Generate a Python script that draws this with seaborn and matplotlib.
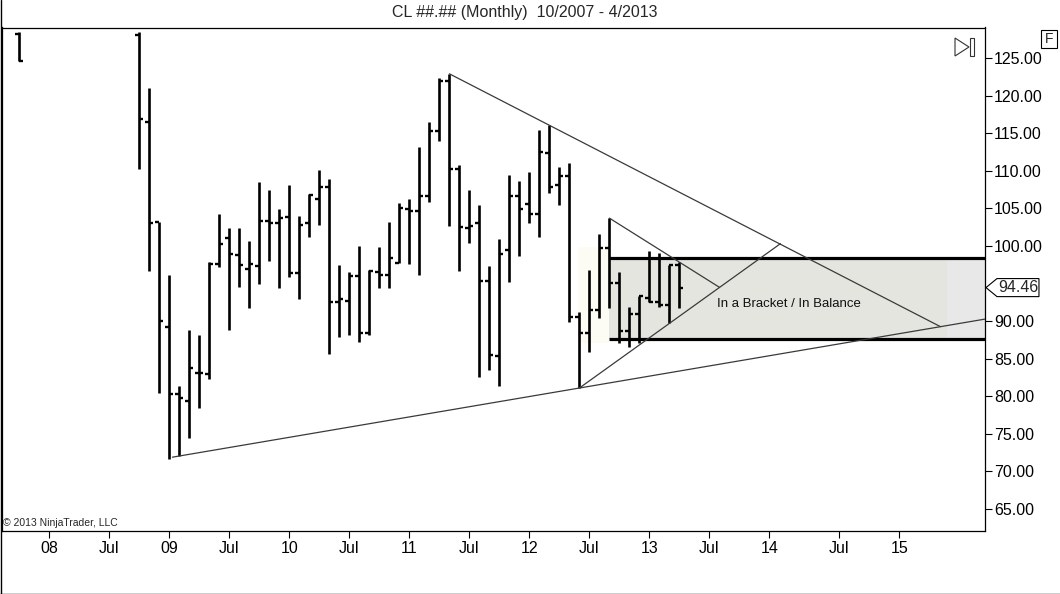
import matplotlib
matplotlib.use("Agg")
import matplotlib.pyplot as plt
import matplotlib.transforms as mtransforms
from matplotlib.patches import Rectangle, Polygon
from matplotlib.lines import Line2D
import seaborn as sns

# Monatsindex: 0 = Jan 2008
months = [-3, 9, 10, 11, 12, 13, 14, 15, 16, 17, 18, 19, 20, 21, 22, 23, 24, 25, 26, 27, 28,
          29, 30, 31, 32, 33, 34, 35, 36, 37, 38, 39, 40, 41, 42, 43, 44, 45, 46, 47, 48,
          49, 50, 51, 52, 53, 54, 55, 56, 57, 58, 59, 60, 61, 62, 63]
opens = [128.2, 128.0, 116.5, 103.2, 89.2, 80.3, 79.4, 83.1, 82.9, 97.6, 101.0, 98.8, 97.0, 97.3, 103.3,
         103.1, 103.8, 96.4, 103.1, 106.3, 107.8, 92.5, 92.7, 96.0, 88.4, 96.5, 96.2, 97.7, 104.9,
         104.7, 106.6, 115.3, 122.0, 110.2, 102.4, 103.0, 95.4, 85.4, 99.4, 106.6, 105.6, 104.2,
         112.3, 108.1, 109.3, 90.6, 88.4, 91.5, 99.7, 95.1, 88.7, 90.9, 93.1, 92.6, 92.2, 97.5]
highs = [128.4, 128.4, 121.0, 103.2, 96.1, 81.4, 88.8, 88.2, 97.8, 104.3, 102.4, 102.4, 100.7, 108.5, 107.5,
         104.9, 108.1, 104.0, 106.9, 110.1, 108.9, 97.4, 96.6, 100.0, 96.8, 99.9, 103.2, 105.7, 106.2,
         113.1, 116.5, 122.3, 122.9, 110.8, 107.4, 105.4, 97.3, 100.9, 109.5, 108.7, 109.8, 115.4,
         116.1, 110.5, 111.0, 91.2, 96.8, 101.6, 103.7, 96.6, 91.9, 93.4, 99.3, 99.1, 97.5, 97.9]
lows = [124.6, 110.3, 96.7, 80.5, 71.7, 72.0, 74.4, 78.5, 82.3, 97.2, 88.8, 94.6, 91.8, 94.9, 98.0,
        94.4, 95.9, 93.0, 101.2, 102.8, 85.6, 87.9, 88.2, 87.2, 88.2, 94.4, 94.4, 97.7, 97.6,
        96.2, 105.8, 113.9, 102.6, 96.7, 100.4, 82.5, 83.5, 81.4, 95.2, 98.6, 103.1, 101.2,
        107.0, 105.5, 89.9, 81.1, 85.9, 90.4, 91.7, 87.1, 86.5, 87.1, 92.5, 91.9, 89.8, 91.8]
closes = [124.6, 116.9, 103.1, 90.0, 80.3, 79.8, 83.8, 83.1, 97.6, 100.3, 98.9, 97.5, 97.6, 103.3, 103.1,
          103.7, 96.4, 102.8, 106.8, 107.8, 92.5, 92.9, 96.0, 88.4, 96.7, 96.1, 98.4, 105.0, 104.7,
          106.6, 115.3, 122.0, 110.2, 102.5, 102.6, 95.4, 85.5, 98.9, 106.6, 104.9, 104.2, 112.5,
          107.9, 109.3, 90.6, 88.4, 91.5, 99.7, 95.1, 88.7, 90.9, 93.3, 92.6, 92.2, 97.4, 94.46]
last_price = 94.46

x_tick_pos = [0, 6, 12, 18, 24, 30, 36, 42, 48, 54, 60, 66, 72, 79, 85]
x_tick_labels = ['08', 'Jul', '09', 'Jul', '10', 'Jul', '11', 'Jul', '12', 'Jul', '13', 'Jul', '14', 'Jul', '15']
# 95.00 liegt unter der Preismarke und ist im Original nicht sichtbar
y_ticks = [65, 70, 75, 80, 85, 90, 100, 105, 110, 115, 120, 125]

# Zeichenwerkzeuge (Monat, Preis)
lower_trend = [(12.3, 71.9), (53.0, 81.1)]
upper_trend = [(40.0, 122.9), (50.0, 116.05)]
small_rise = [(53.0, 81.1), (73.1, 100.3)]
small_fall = [(56.0, 103.7), (67.0, 94.5)]
bracket = (56.0, 87.62, 98.46)
bracket_text = 'In a Bracket / In Balance'

X_MIN, X_MAX = -4.74, 93.56
Y_MIN, Y_MAX = 62.08, 129.06

sns.set_style('white')
plt.rcParams['font.family'] = ['Liberation Sans', 'DejaVu Sans']

W, H = 1060, 594
fig = plt.figure(figsize=(W / 100, H / 100), dpi=100)
ax = fig.add_axes([2 / W, 1 - 531 / H, 983 / W, 503.5 / H])
ax.set_xlim(X_MIN, X_MAX)
ax.set_ylim(Y_MIN, Y_MAX)


def line_y(p, q, x):
    return p[1] + (q[1] - p[1]) * (x - p[0]) / (q[0] - p[0])


def cross_x(a, b):
    sa = (a[1][1] - a[0][1]) / (a[1][0] - a[0][0])
    sb = (b[1][1] - b[0][1]) / (b[1][0] - b[0][0])
    return (b[0][1] - a[0][1] + sa * a[0][0] - sb * b[0][0]) / (sa - sb)


# Bracket-Rechteck
x0, lo, hi = bracket
ax.add_patch(Rectangle((52.9, 87.1), x0 - 52.9, 99.9 - 87.1, facecolor='#fcfbf4', edgecolor='none', zorder=0))
ax.add_patch(Rectangle((x0, lo), X_MAX - x0, hi - lo, facecolor='#e5e5e0', edgecolor='none', zorder=0))
ax.add_patch(Rectangle((89.8, lo), X_MAX - 89.8, hi - lo, facecolor='#e8e8e8', edgecolor='none', zorder=0))
ax.hlines([lo, hi], x0, X_MAX, color='black', lw=2.3, zorder=3)

# OHLC-Balken
ax.vlines(months, lows, highs, color='black', lw=1.9, zorder=2)
ax.hlines(opens, [m - 0.4 for m in months], months, color='black', lw=1.7, zorder=2)
ax.hlines(closes, months, [m + 0.4 for m in months], color='black', lw=1.7, zorder=2)

# Trendlinien
lc = '#3a3a3a'
xe = X_MAX
sns.lineplot(x=[lower_trend[0][0], xe], y=[lower_trend[0][1], line_y(*lower_trend, xe)],
             ax=ax, color=lc, lw=0.9, zorder=4)
xc = cross_x(upper_trend, lower_trend)
sns.lineplot(x=[upper_trend[0][0], xc], y=[upper_trend[0][1], line_y(*upper_trend, xc)],
             ax=ax, color=lc, lw=0.9, zorder=4)
sns.lineplot(x=[small_rise[0][0], small_rise[1][0]], y=[small_rise[0][1], small_rise[1][1]],
             ax=ax, color=lc, lw=0.9, zorder=4)
xs = cross_x(small_fall, small_rise)
sns.lineplot(x=[small_fall[0][0], xs], y=[small_fall[0][1], line_y(*small_fall, xs)],
             ax=ax, color=lc, lw=0.9, zorder=4)

ax.text(73.96, 92.27, bracket_text, ha='center', va='center', fontsize=9.5, color='#111111', zorder=5)

# Achsen
ax.yaxis.tick_right()
ax.set_yticks(y_ticks)
ax.set_yticklabels([f'{v:.2f}' for v in y_ticks])
ax.set_xticks(x_tick_pos)
ax.set_xticklabels(x_tick_labels)
ax.tick_params(axis='y', right=True, length=5, width=0.8, pad=1.5, labelsize=11.5, colors='black')
ax.tick_params(axis='x', bottom=True, length=5, width=0.8, pad=2.5, labelsize=11.5, colors='black')
for s in ax.spines.values():
    s.set_visible(True)
    s.set_color('black')
    s.set_linewidth(0.9)
ax.set_xlabel('')
ax.set_ylabel('')

# Preismarke letzter Kurs
tr = mtransforms.blended_transform_factory(ax.transAxes, ax.transData)
dy = 1.2
ax.add_patch(Polygon([(1.001, last_price), (1.0122, last_price + dy), (1.0549, last_price + dy),
                      (1.0549, last_price - dy), (1.0122, last_price - dy)], closed=True,
                     facecolor='white', edgecolor='black', lw=0.8, transform=tr, clip_on=False, zorder=10))
ax.text(1.0336, last_price, f'{last_price:.2f}', transform=tr, ha='center', va='center',
        fontsize=11.5, zorder=11, clip_on=False)


def fx(x, y):
    return x / W, 1 - y / H


# Titel und Beschriftungen
fig.text(*fx(525, 12), 'CL ##.## (Monthly)  10/2007 - 4/2013', ha='center', va='center', fontsize=11.5)
fig.text(*fx(3, 523), '\u00a9 2013 NinjaTrader, LLC', ha='left', va='center', fontsize=7.5)

# F-Knopf und Scroll-Symbol
fig.add_artist(Rectangle(fx(1041, 48), 16 / W, 18 / H, transform=fig.transFigure,
                         facecolor='white', edgecolor='black', lw=0.8))
fig.text(*fx(1049, 39), 'F', ha='center', va='center', fontsize=10)
fig.add_artist(Polygon([fx(955, 38), fx(955, 56), fx(969, 47)], closed=True, transform=fig.transFigure,
                       facecolor='none', edgecolor='#333333', lw=0.8))
fig.add_artist(Rectangle(fx(970, 56), 4 / W, 18 / H, transform=fig.transFigure,
                         facecolor='none', edgecolor='#333333', lw=0.8))

# Rahmen
fig.add_artist(Line2D([0.5 / W, 0.5 / W], [0, 1], transform=fig.transFigure, color='black', lw=1))
fig.add_artist(Line2D([0, 1], [0.5 / H, 0.5 / H], transform=fig.transFigure, color='black', lw=1))

fig.savefig('out.png', dpi=100)
